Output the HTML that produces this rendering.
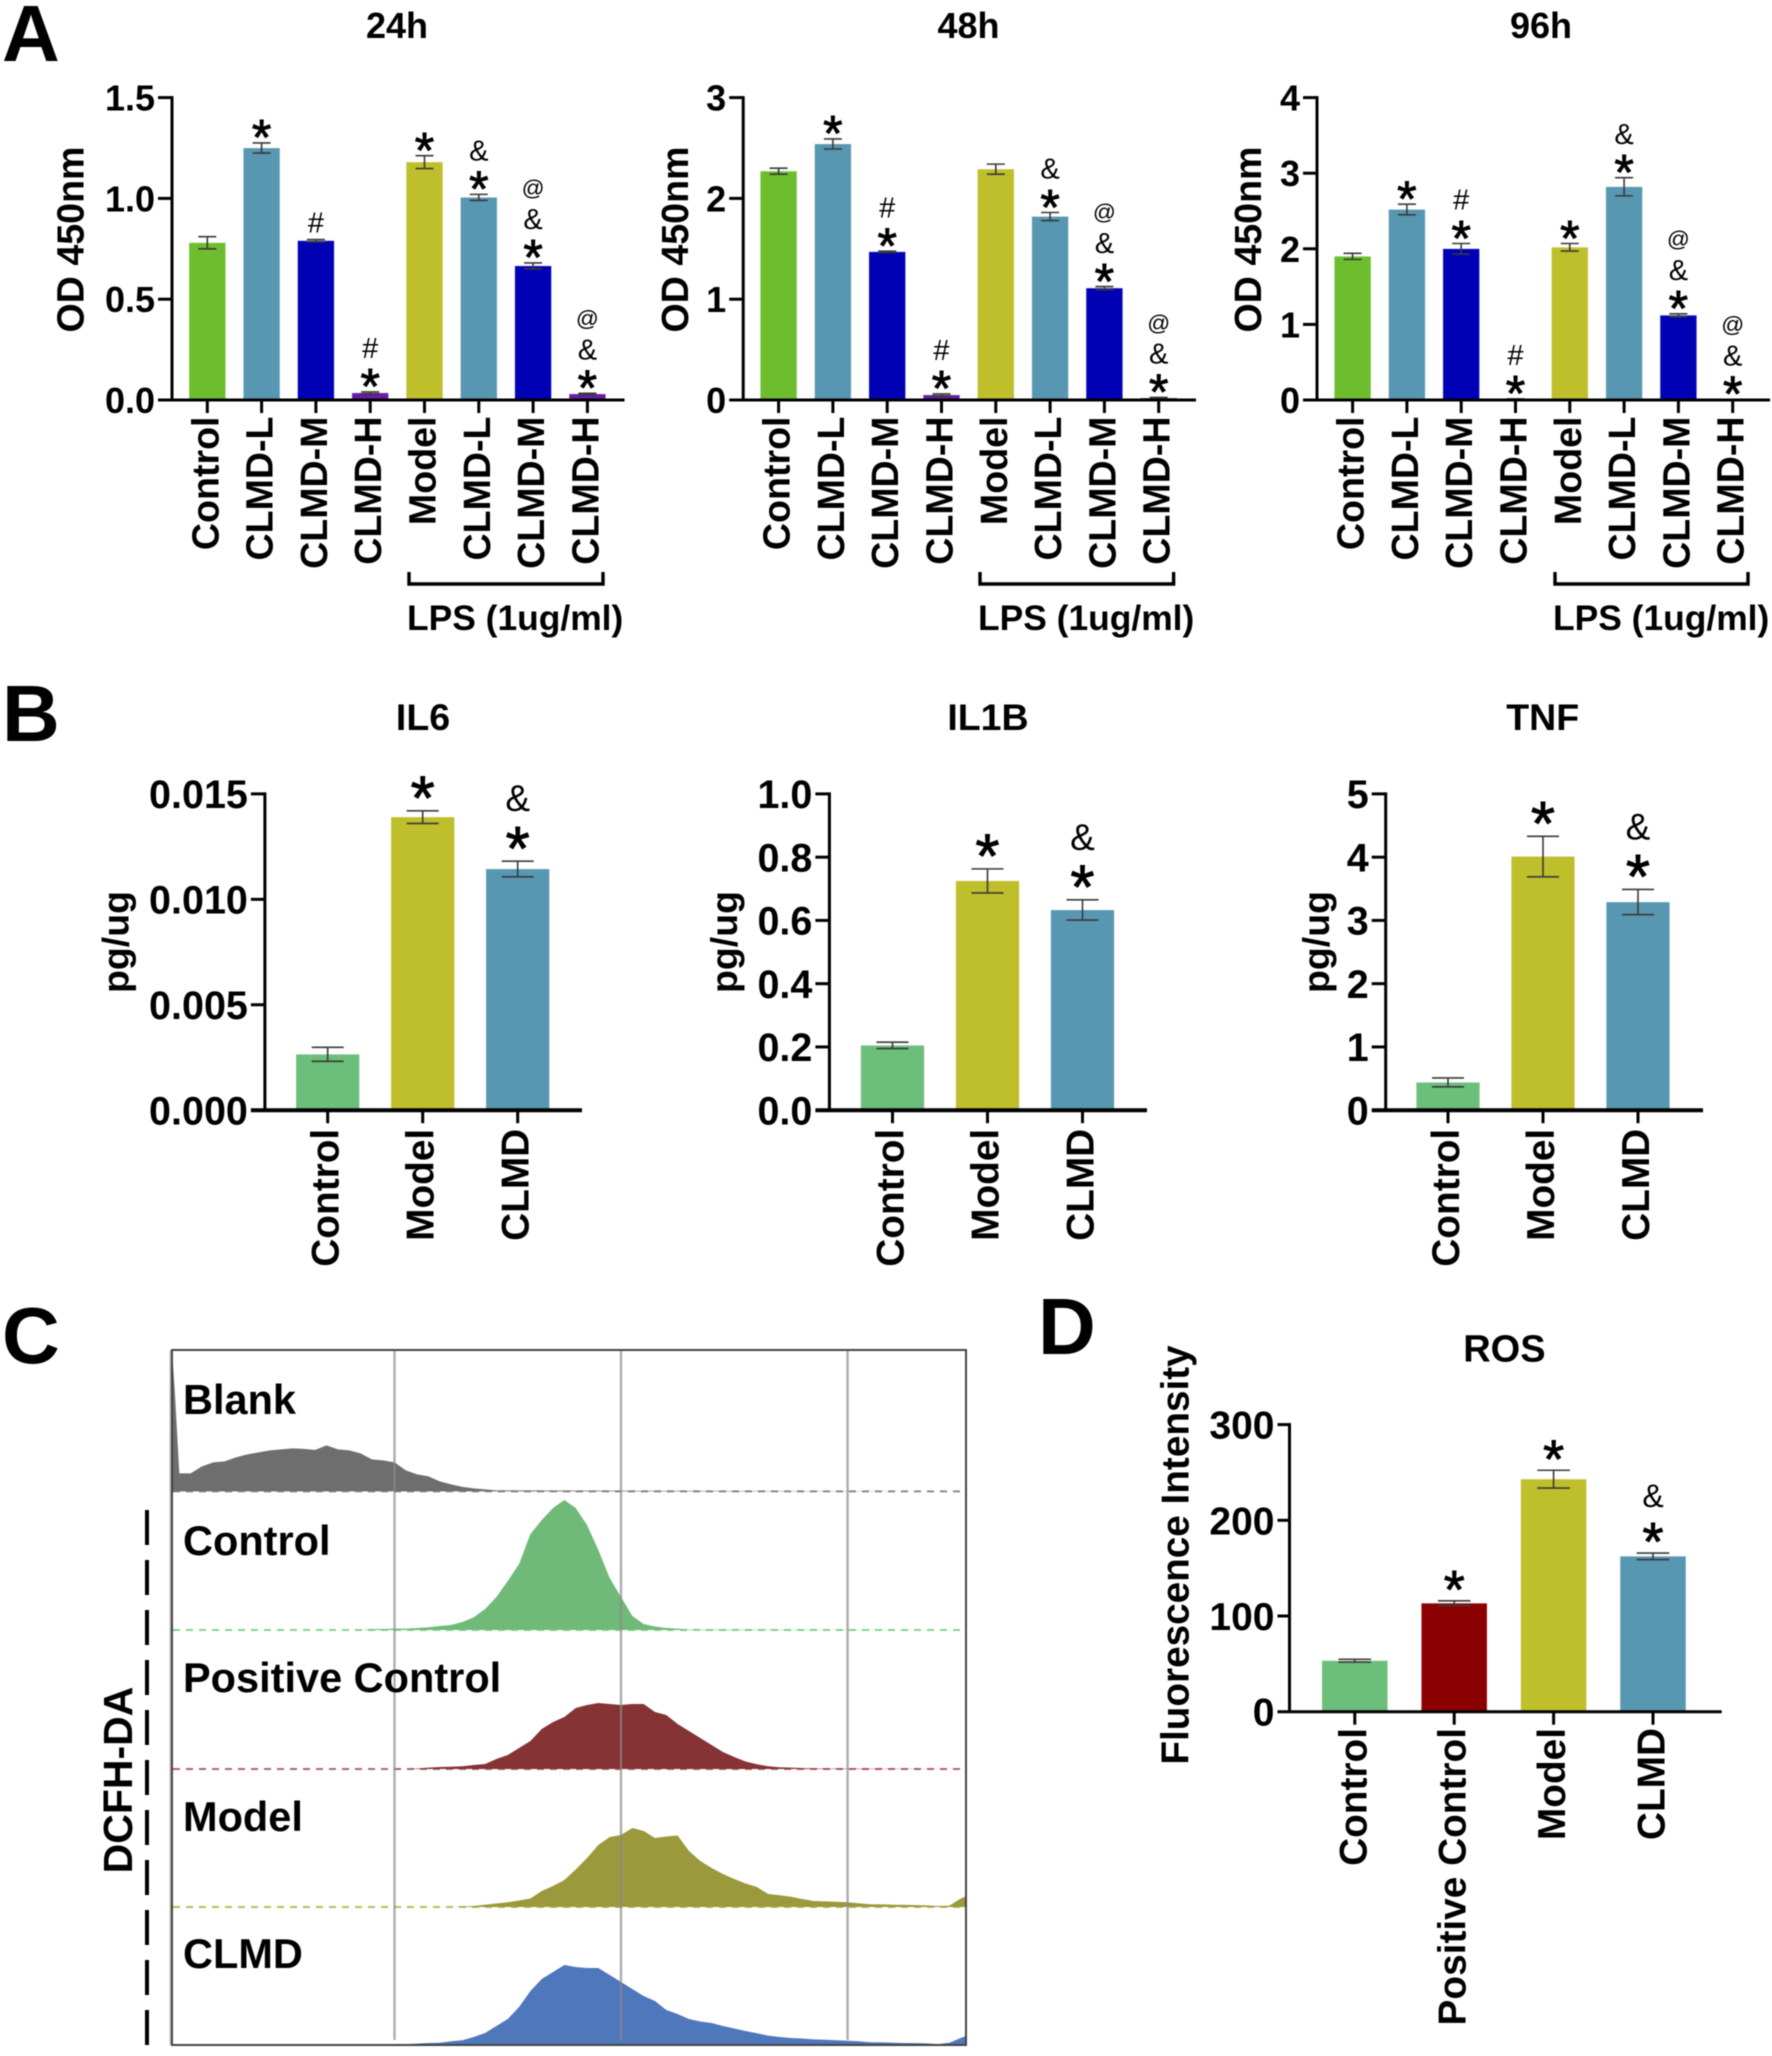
<!DOCTYPE html>
<html lang="en">
<head>
<meta charset="utf-8">
<title>CLMD cell viability, cytokines and ROS figure</title>
<style>
html,body{margin:0;padding:0;background:#fff;}
svg{display:block;filter:blur(.45px);}
text{font-family:"Liberation Sans",Arial,sans-serif;fill:#000;}
.b{font-weight:bold;}
</style>
</head>
<body>
<svg id="figure" xmlns="http://www.w3.org/2000/svg" width="1772" height="2056" viewBox="0 0 1772 2056">
  <rect x="0" y="0" width="1772" height="2056" fill="#fff"/>
  <text class="b" x="2" y="61" font-size="80">A</text>
  <text class="b" x="2" y="741" font-size="80">B</text>
  <text class="b" x="2" y="1363" font-size="80">C</text>
  <text class="b" x="1038" y="1354" font-size="80">D</text>
  <g id="charts"></g>
  <g id="flow">
    <g id="flow-hists"></g>
    <line x1="394.5" y1="1350" x2="394.5" y2="2040" stroke="#8a8a8a" stroke-opacity=".7" stroke-width="2.4"/>
    <line x1="621" y1="1350" x2="621" y2="2040" stroke="#8a8a8a" stroke-opacity=".7" stroke-width="2.4"/>
    <line x1="847.6" y1="1350" x2="847.6" y2="2040" stroke="#8a8a8a" stroke-opacity=".7" stroke-width="2.4"/>
    <line x1="170.5" y1="1350" x2="170.5" y2="2045" stroke="#bbb" stroke-width="2"/>
    <rect x="172" y="1350" width="794" height="695" fill="none" stroke="#444" stroke-width="2"/>
    <text class="b" x="183" y="1414" font-size="41.5">Blank</text>
    <text class="b" x="183" y="1555" font-size="41.5">Control</text>
    <text class="b" x="183" y="1692" font-size="41.5">Positive Control</text>
    <text class="b" x="183" y="1831" font-size="41.5">Model</text>
    <text class="b" x="183" y="1968" font-size="41.5">CLMD</text>
    <line x1="147" y1="1510" x2="147" y2="2056" stroke="#000" stroke-width="4" stroke-dasharray="35 15"/>
    <text class="b" font-size="41" text-anchor="middle" transform="translate(132 1780) rotate(-90)">DCFH-DA</text>
  </g>
</svg>
<script>
// ---------- Panel A data ----------
const categoriesA = ['Control','CLMD-L','CLMD-M','CLMD-H','Model','CLMD-L','CLMD-M','CLMD-H'];
const values24h = [0.78,1.25,0.79,0.035,1.18,1.005,0.665,0.03];
const errors24h = [0.03,0.025,0.006,0.005,0.032,0.015,0.015,0.003];
const ticks24h = [0,0.5,1,1.5];
const tickLabels24h = ['0.0','0.5','1.0','1.5'];
const marks24h = ['','*','#','*#','*','*&','*&@','*&@'];

const values48h = [2.27,2.54,1.47,0.05,2.29,1.82,1.11,0.02];
const errors48h = [0.03,0.05,0.006,0.01,0.05,0.04,0.015,0.005];
const ticks48h = [0,1,2,3];
const tickLabels48h = ['0','1','2','3'];
const marks48h = ['','*','*#','*#','','*&','*&@','*&@'];

const values96h = [1.9,2.52,2.0,0.01,2.02,2.82,1.12,0.005];
const errors96h = [0.04,0.07,0.07,0.005,0.05,0.12,0.02,0.003];
const ticks96h = [0,1,2,3,4];
const tickLabels96h = ['0','1','2','3','4'];
const marks96h = ['','*','*#','*#','*','*&','*&@','*&@'];

// ---------- Panel B data ----------
const categoriesB = ['Control','Model','CLMD'];
const valuesIL6 = [0.00265,0.0139,0.01144];
const errorsIL6 = [0.00033,0.0003,0.00037];
const ticksIL6 = [0,0.005,0.01,0.015];
const tickLabelsIL6 = ['0.000','0.005','0.010','0.015'];
const valuesIL1B = [0.205,0.725,0.633];
const errorsIL1B = [0.01,0.038,0.032];
const ticksIL1B = [0,0.2,0.4,0.6,0.8,1];
const tickLabelsIL1B = ['0.0','0.2','0.4','0.6','0.8','1.0'];
const valuesTNF = [0.44,4.01,3.29];
const errorsTNF = [0.07,0.32,0.2];
const ticksTNF = [0,1,2,3,4,5];
const tickLabelsTNF = ['0','1','2','3','4','5'];
const marksB = ['','*','*&'];

// ---------- Panel D data ----------
const categoriesD = ['Control','Positive Control','Model','CLMD'];
const valuesROS = [53.3,113.3,243,162.4];
const errorsROS = [1.5,2.6,9.3,3.4];
const ticksROS = [0,100,200,300];
const tickLabelsROS = ['0','100','200','300'];
const marksD = ['','*','*','*&'];

// ---------- Panel C data (log fluorescence bins, events per bin) ----------
const fluorBins = [0.02,0.03,0.05,0.1,0.15,0.2,0.25,0.3,0.35,0.4,0.45,0.5,0.55,0.6,0.65,0.7,0.75,0.8,0.85,0.9,0.95,1,1.05,1.1,1.15,1.2,1.25,1.3,1.35,1.4,1.45,1.5,1.55,1.6,1.65,1.7,1.75,1.8,1.85,1.9,1.95,2,2.05,2.1,2.15,2.2,2.25,2.3,2.35,2.4,2.45,2.5,2.55,2.6,2.65,2.7,2.75,2.8,2.85,2.9,2.95,3,3.05,3.1,3.15,3.2,3.25,3.3,3.35,3.4,3.45,3.5,3.523];
const blankCounts = [134,100,18,18,25,29,30,34,37,39,41,42,43,42.5,41.5,46,42,41,38,32,31,29,21,17,15,10,7,4.5,3,2,1,0];
const controlCounts = [0,0,0,0,0,0,0,0,0,0,0,0,0,0,0,0,0,0,0,1,1,1.4,1.4,2,2.8,4,5,8,12.7,21,33,49,66,96,110,122,130,122,105,80,52,33,14,6,3.5,2,1.4,0.5,0];
const positiveCounts = [0,0,0,0,0,0,0,0,0,0,0,0,0,0,0,0,0,0,0,0,0,0,0,0.5,1.4,2,2.3,2.8,4,5,10,14,21,28,40,47,52,61,64,66,65,64,65,65,57,54,45,38,31,24,17,12,7.5,4.7,2.8,1.8,1.4,1,0.5,0];
const modelCounts = [0,0,0,0,0,0,0,0,0,0,0,0,0,0,0,0,0,0,0,0,0,0,0,0,0,0,0,0.5,1,2.3,3.5,4.7,6.5,8.5,16,21,27,37.5,49,62,70,72,79,76,69,70.5,71.5,56,46,39,33,28,23.5,20,13,11.7,10.3,8,6,5.6,5.2,4.7,3.8,2.8,2.6,2.3,2.1,1.9,1.6,1,1.4,8.5,10.8];
const clmdCounts = [0,0,0,0,0,0,0,0,0,0,0,0,0,0,0,0,0,0,0,0,0,0,0.9,1.4,2,2.3,3.8,4.7,8,12,19,26,38,54,66,73,80,78,77,77,70,63,56,49,44,35,31,26,23.5,22,19,16.5,14,11.7,9.4,8,7,6.5,5.6,5.2,4.7,4.2,3.8,2.8,2.6,2.3,2,1.9,1.6,0.9,2.3,7,9];

// ---------- Styles ----------
const GREEN='#6dbd2e',TEAL='#5897b1',BLUE='#0000b5',PURPLE='#6a1ba8',OLIVE='#bfbe2b',MINT='#6cbe7b',MAROON='#8b0000';
const paletteA=[GREEN,TEAL,BLUE,PURPLE,OLIVE,TEAL,BLUE,PURPLE];
const paletteB=[MINT,OLIVE,TEAL];
const paletteD=[MINT,MAROON,OLIVE,TEAL];
const NS='http://www.w3.org/2000/svg';

function mk(tag,attrs,parent,txt){
  const el=document.createElementNS(NS,tag);
  for(const k in attrs){el.setAttribute(k,attrs[k]);}
  if(txt!==undefined){el.textContent=txt;}
  parent.appendChild(el);
  return el;
}

function drawBarChart(c){
  const root=document.getElementById('charts');
  const g=mk('g',{},root);
  
  
  const maxTick=c.ticks[c.ticks.length-1];
  const yScale=v=>c.base-(v/maxTick)*(c.base-c.top);
  const xScale=i=>c.x0+c.step*i;
  const fmtTick=c.tickFont;

  // bars and error bars
  c.values.forEach((v,i)=>{
    const bar=mk('rect',{x:xScale(i)-c.barW/2,y:yScale(v),width:c.barW,height:c.base-yScale(v),fill:c.colors[i],stroke:'#fff','stroke-opacity':.22,'stroke-width':1},g);
    
    
    const e=c.errors[i];
    const errPath='M'+(xScale(i)-c.capW/2)+' '+yScale(v+e)+'H'+(xScale(i)+c.capW/2)+
      'M'+xScale(i)+' '+yScale(v+e)+'V'+yScale(v-e)+
      'M'+(xScale(i)-c.capW/2)+' '+yScale(v-e)+'H'+(xScale(i)+c.capW/2);
    const err=mk('path',{d:errPath,stroke:'#3a3a3a','stroke-width':1.6,fill:'none'},g);
    
    

    // significance marks stacked above the error bar
    let cy=yScale(v+e)-c.markGap;
    Array.from(c.marks[i]).forEach((s)=>{
      let fs=c.symSize,off=0.35;
      const attrs={x:xScale(i),'text-anchor':'middle'};
      if(s==='*'){fs=c.starSize;off=0.575;attrs.stroke='#000';attrs['stroke-width']=0.9;}
      if(s==='@'){fs=c.symSize*0.78;off=0.3;}
      attrs.y=cy+off*fs;
      attrs['font-size']=fs;
      const mark=mk('text',attrs,g,s);
      
      
      cy-= s==='*'?c.starStep:c.symStep;
    });
  });

  // axes
  const yAxis=mk('line',{x1:c.axisX,x2:c.axisX,y1:c.top-1.5,y2:c.base,stroke:'#000','stroke-width':3},g);
  
  
  const xAxis=mk('line',{x1:c.axisX-c.tickLen,x2:c.axisEnd,y1:c.base,y2:c.base,stroke:'#000','stroke-width':c.baseW},g);
  
  

  c.ticks.forEach((t,i)=>{
    const y=yScale(t);
    if(t!==0){
      const tk=mk('line',{x1:c.axisX-c.tickLen,x2:c.axisX,y1:y,y2:y,stroke:'#000','stroke-width':3},g);
      
      
    }
    const lab=mk('text',{x:c.axisX-c.tickLen-3,y:y+fmtTick*0.36,'font-size':fmtTick,'text-anchor':'end','class':'b'},g,c.tickLabels[i]);
    
    
  });

  c.categories.forEach((cat,i)=>{
    const tk=mk('line',{x1:xScale(i),x2:xScale(i),y1:c.base,y2:c.base+13,stroke:'#000','stroke-width':3},g);
    
    
    const lx=xScale(i)+c.catOff;
    const lab=mk('text',{'font-size':c.catFont,'text-anchor':'end','class':'b',transform:'translate('+lx+' '+c.catTop+') rotate(-90)'},g,cat);
    
    
  });

  const title=mk('text',{x:c.titleX,y:c.titleY,'font-size':c.titleFont,'text-anchor':'middle','class':'b'},g,c.title);
  
  
  const yt=mk('text',{'font-size':c.yTitleFont,'text-anchor':'middle','class':'b',transform:'translate('+c.yTitleX+' '+c.yTitleY+') rotate(-90)'},g,c.yTitle);
  
  

  if(c.bracket){
    const br=mk('path',{d:'M'+c.bracket[0]+' 572V584H'+c.bracket[1]+'V572',fill:'none',stroke:'#000','stroke-width':3.4},g);
    
    
    const lp=mk('text',{x:c.bracket[0]-2,y:630,'font-size':35.4,'class':'b'},g,'LPS (1ug/ml)');
    
    
  }
}

const commonA={categories:categoriesA,colors:paletteA,top:97.6,base:400,step:54.3,barW:36.5,capW:18,tickLen:14,baseW:3,tickFont:36,catFont:37.6,catTop:416.5,catOff:11,titleY:38,titleFont:36,yTitle:'OD 450nm',yTitleFont:37.6,yTitleY:239.5,starSize:50,symSize:29,markGap:17,starStep:27,symStep:30};
drawBarChart(Object.assign({},commonA,{id:'od-24h',title:'24h',titleX:397,x0:207.3,axisX:172,axisEnd:624.5,values:values24h,errors:errors24h,ticks:ticks24h,tickLabels:tickLabels24h,marks:marks24h,yTitleX:83.5,bracket:[409,603]}));
drawBarChart(Object.assign({},commonA,{id:'od-48h',title:'48h',titleX:968.5,x0:778.6,axisX:743.2,axisEnd:1196,values:values48h,errors:errors48h,ticks:ticks48h,tickLabels:tickLabels48h,marks:marks48h,yTitleX:688,bracket:[980,1173.6]}));
drawBarChart(Object.assign({},commonA,{id:'od-96h',title:'96h',titleX:1541,x0:1352.6,axisX:1317,axisEnd:1770,values:values96h,errors:errors96h,ticks:ticks96h,tickLabels:tickLabels96h,marks:marks96h,yTitleX:1261,bracket:[1555,1748]}));

const commonB={categories:categoriesB,colors:paletteB,top:793.9,base:1110.2,step:95,barW:63.4,capW:32,tickLen:14,baseW:4,tickFont:39.5,catFont:38.8,catTop:1128.8,catOff:11,titleY:730,titleFont:37.5,yTitle:'pg/ug',yTitleFont:37.5,yTitleY:942,starSize:62,symSize:37,markGap:27,starStep:36,symStep:30,marks:marksB};
drawBarChart(Object.assign({},commonB,{id:'il6',title:'IL6',titleX:423,x0:327.7,axisX:264.9,axisEnd:582,values:valuesIL6,errors:errorsIL6,ticks:ticksIL6,tickLabels:tickLabelsIL6,yTitleX:128.6}));
drawBarChart(Object.assign({},commonB,{id:'il1b',title:'IL1B',titleX:988,x0:892.5,axisX:829.4,axisEnd:1147,values:valuesIL1B,errors:errorsIL1B,ticks:ticksIL1B,tickLabels:tickLabelsIL1B,yTitleX:737}));
drawBarChart(Object.assign({},commonB,{id:'tnf',title:'TNF',titleX:1542.7,x0:1448,axisX:1385.7,axisEnd:1703,values:valuesTNF,errors:errorsTNF,ticks:ticksTNF,tickLabels:tickLabelsTNF,yTitleX:1329}));

drawBarChart({id:'ros',categories:categoriesD,colors:paletteD,top:1424.6,base:1711.7,step:99.4,barW:65.7,capW:32.6,tickLen:12,baseW:3,tickFont:39,catFont:38.8,catTop:1728,catOff:11.5,titleY:1361.7,titleFont:38,title:'ROS',titleX:1504.4,yTitle:'Fluorescence Intensity',yTitleFont:38.7,yTitleX:1188.5,yTitleY:1555,starSize:54,symSize:32,markGap:24,starStep:33,symStep:30,x0:1354.8,axisX:1289.5,axisEnd:1721.7,values:valuesROS,errors:errorsROS,ticks:ticksROS,tickLabels:tickLabelsROS,marks:marksD});

// ---------- Panel C histograms ----------
const histFlowX=v=>168+226.5*v;
function drawHist(id,counts,baseline,fill,dash){
  const parent=document.getElementById('flow-hists');
  const histY=c=>baseline-c;
  if(dash){
    const line=mk('line',{x1:173,x2:966,y1:baseline,y2:baseline,stroke:dash,'stroke-width':2,'stroke-dasharray':'7 6'},parent);
    
    
  }
  let d='M'+histFlowX(fluorBins[0])+' '+baseline;
  fluorBins.forEach((b,i)=>{
    const c=counts[i]||0;
    if(c>0||(counts[i+1]||0)>0){d+='L'+histFlowX(b)+' '+histY(c);}
  });
  d+='L'+histFlowX(fluorBins[fluorBins.length-1])+' '+baseline+'Z';
  const area=mk('path',{d:d,fill:fill},parent);
  
  
}
drawHist('blank',blankCounts,1491.4,'#6e6e6e','#8d8d8d');
drawHist('control',controlCounts,1630,'#6fba78','#86d491');
drawHist('positive-control',positiveCounts,1769,'#853335','#b5606a');
drawHist('model',modelCounts,1907,'#9a993c','#bcbb55');
drawHist('clmd',clmdCounts,2045,'#4f77bc',null);
</script>
</body>
</html>
